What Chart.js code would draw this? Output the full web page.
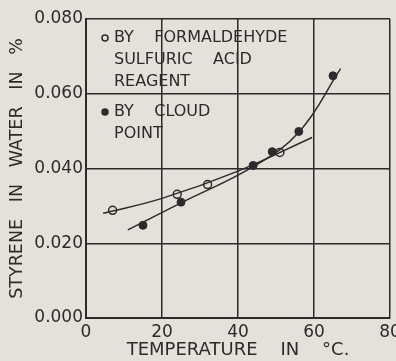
<!DOCTYPE html>
<html>
<head>
<meta charset="utf-8">
<script src="https://cdn.jsdelivr.net/npm/chart.js@4"></script>
<style>
  html, body { margin: 0; padding: 0; background: #e3e1da; }
  #wrap { width: 396px; height: 361px; }
</style>
</head>
<body>
<div id="wrap"><canvas id="myChart" width="396" height="361"></canvas></div>
<script>
// points
const reagentTemp = [7, 24, 32, 51];
const reagentWater = [0.0288, 0.0331, 0.0357, 0.0443];
const cloudTemp = [15, 25, 44, 49, 56, 65];
const cloudWater = [0.0248, 0.0310, 0.0408, 0.0445, 0.0499, 0.0648];

// smooth curves drawn through them
const reagentCurveTemp = [4.5, 20, 40, 59.5];
const reagentCurveWater = [0.0280, 0.0320, 0.0393, 0.0483];
const cloudCurveTemp = [11, 25, 44, 56, 67];
const cloudCurveWater = [0.0236, 0.0308, 0.0405, 0.0497, 0.0667];

const xTicks = [0, 20, 40, 60, 80];
const yTicks = [0, 0.02, 0.04, 0.06, 0.08];

const legendLines = [
  { mark: 'open', text: 'BY    FORMALDEHYDE', row: 0 },
  { mark: null, text: 'SULFURIC    ACID', row: 1 },
  { mark: null, text: 'REAGENT', row: 2 },
  { mark: 'filled', text: 'BY    CLOUD', row: 3.4 },
  { mark: null, text: 'POINT', row: 4.4 }
];

const ink = '#2b2b2b';
const bg = '#e3e1da';
const font = 'DejaVu Sans, sans-serif';

const toXY = (xs, ys) => xs.map((x, i) => ({ x: x, y: ys[i] }));

const legendText = {
  id: 'legendText',
  afterDraw(chart) {
    const c = chart.ctx;
    c.save();
    c.font = '16px ' + font;
    c.fillStyle = ink;
    c.textBaseline = 'middle';
    legendLines.forEach(l => {
      const y = 38 + l.row * 21.8;
      c.fillText(l.text, 114, y);
      if (l.mark) {
        c.beginPath();
        c.arc(105, y, 3, 0, Math.PI * 2);
        c.lineWidth = 1.5;
        c.strokeStyle = ink;
        if (l.mark === 'filled') { c.fill(); }
        c.stroke();
      }
    });
    c.restore();
  }
};

const ctx = document.getElementById('myChart').getContext('2d');

const data = {
  datasets: [
    {
      label: 'reagent curve',
      data: toXY(reagentCurveTemp, reagentCurveWater),
      showLine: true,
      borderColor: ink,
      borderWidth: 1.5,
      pointRadius: 0,
      tension: 0.4
    },
    {
      label: 'cloud curve',
      data: toXY(cloudCurveTemp, cloudCurveWater),
      showLine: true,
      borderColor: ink,
      borderWidth: 1.5,
      pointRadius: 0,
      tension: 0.4
    },
    {
      label: 'By formaldehyde sulfuric acid reagent',
      data: toXY(reagentTemp, reagentWater),
      pointRadius: 4,
      pointBackgroundColor: bg,
      pointBorderColor: ink,
      pointBorderWidth: 1.5
    },
    {
      label: 'By cloud point',
      data: toXY(cloudTemp, cloudWater),
      pointRadius: 4,
      pointBackgroundColor: ink,
      pointBorderColor: ink,
      pointBorderWidth: 1
    }
  ]
};

const config = {
  type: 'scatter',
  data: data,
  plugins: [legendText],
  options: {
    responsive: false,
    animation: false,
    layout: { padding: { left: 0, right: 6, top: 19, bottom: 0 } },
    plugins: { legend: { display: false }, tooltip: { enabled: false } },
    scales: {
      x: {
        type: 'linear',
        min: 0,
        max: 80,
        afterBuildTicks: s => { s.ticks = xTicks.map(v => ({ value: v })); },
        afterFit: s => { s.height = 43; s.paddingLeft = 0; s.paddingRight = 0; },
        ticks: { color: ink, font: { family: font, size: 17 }, padding: 4 },
        grid: { color: ink, lineWidth: 1.5, drawTicks: false },
        border: { color: ink, width: 2 },
        title: {
          display: true,
          text: 'TEMPERATURE    IN    °C.',
          color: ink,
          font: { family: font, size: 18 },
          padding: { top: 0, bottom: 0 }
        }
      },
      y: {
        min: 0,
        max: 0.08,
        afterBuildTicks: s => { s.ticks = yTicks.map(v => ({ value: v })); },
        afterFit: s => { s.width = 86; s.paddingTop = 0; s.paddingBottom = 0; },
        ticks: {
          color: ink,
          font: { family: font, size: 17 },
          padding: 3,
          callback: v => v.toFixed(3)
        },
        grid: { color: ink, lineWidth: 1.5, drawTicks: false },
        border: { color: ink, width: 2 },
        title: {
          display: true,
          text: 'STYRENE   IN   WATER   IN   %',
          color: ink,
          font: { family: font, size: 17.5 },
          padding: { top: 7, bottom: 0 }
        }
      }
    }
  }
};

const myChart = new Chart(ctx, config);
</script>
</body>
</html>
